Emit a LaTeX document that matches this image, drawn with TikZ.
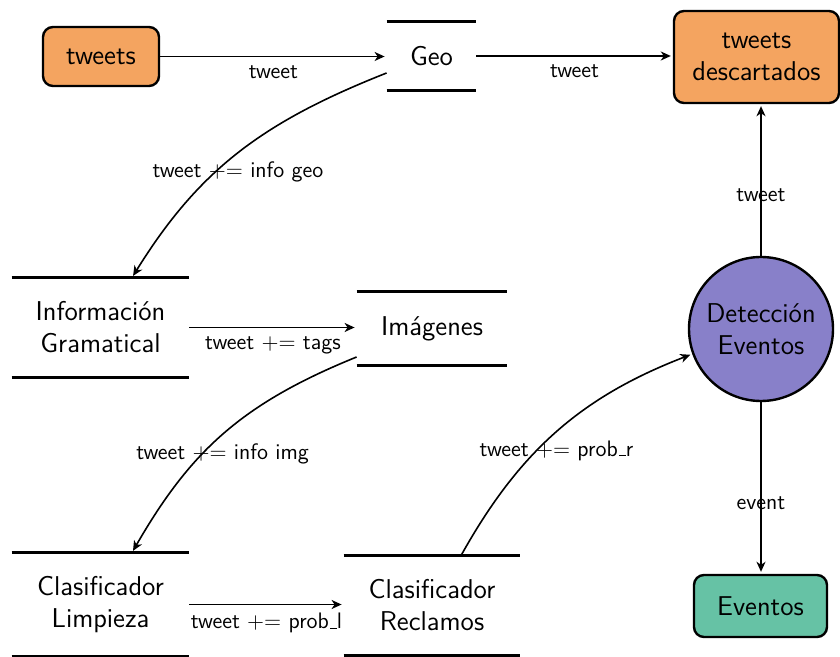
\documentclass[tikz,border=0pt]{standalone}
\usetikzlibrary{arrows.meta}
\definecolor{srcfill}{HTML}{F4A460}
\definecolor{procfill}{HTML}{8880C9}
\definecolor{sinkfill}{HTML}{66C2A5}
% thin low bar in the style of the classic \_ rule
\newcommand\ulbar{\leavevmode\kern.06em\vbox{\hrule width.3em}}
\begin{document}
\begin{tikzpicture}[x=0.5pt,y=-0.5pt,
  font=\sffamily,
  nodetext/.style={font=\sffamily\fontsize{13.6}{16}\selectfont, align=center},
  lbl/.style={font=\sffamily\fontsize{11.2}{13}\selectfont, inner sep=4pt},
  source/.style={nodetext, draw=black, line width=1.2pt, rounded corners=5pt, inner sep=0pt},
  store/.style={nodetext, inner sep=0pt},
  process/.style={nodetext, circle, draw=black, line width=1.2pt, fill=procfill, minimum size=72pt, inner sep=0pt},
  flow/.style={line width=0.8pt, shorten >=1pt, -{Stealth[length=5pt,width=4.5pt,inset=1.5pt]}},
  bar/.style={line width=1.5pt}
]
\useasboundingbox (0,0) rectangle (840,657);

% external entities, data stores and the process
\node[source, fill=srcfill, minimum width=58pt, minimum height=29.5pt] (tweets) at (101,56.5) {tweets};
\node[store, minimum width=44.5pt, minimum height=34pt] (geo) at (431.5,56) {Geo};
\node[source, fill=srcfill, minimum width=82.5pt, minimum height=46pt] (desc) at (756.5,57) {tweets\\descartados};
\node[store, minimum width=88.5pt, minimum height=49.5pt] (info) at (100.5,327.5) {Información\\Gramatical};
\node[store, minimum width=75pt, minimum height=36.5pt] (img) at (432,328.5) {Imágenes};
\node[process] (det) at (761,329) {Detección\\Eventos};
\node[store, minimum width=88.5pt, minimum height=51.5pt] (limp) at (100.5,604.5) {Clasificador\\Limpieza};
\node[store, minimum width=88pt, minimum height=49.5pt] (recl) at (432,605.5) {Clasificador\\Reclamos};
\node[source, fill=sinkfill, minimum width=66.5pt, minimum height=31pt] (evt) at (760.5,606) {Eventos};

% bars above and below each store
\foreach \n in {geo,info,img,limp,recl} {
  \draw[bar] (\n.north west) -- (\n.north east);
  \draw[bar] (\n.south west) -- (\n.south east);
}

% data flows
\draw[flow] (tweets.east) -- (tweets.east -| geo.west) node[lbl, below, midway] {tweet};
\draw[flow] (geo.east) -- (geo.east -| desc.west) node[lbl, below, midway] {tweet};
\draw[flow] ([yshift=-8.5pt]geo.west) .. controls +(-124,49) and +(67,-108) .. ([xshift=15.75pt]info.north)
  node[lbl, below, midway] {tweet $+$= info geo};
\draw[flow] (info.east) -- (info.east -| img.west) node[lbl, below, midway] {tweet $+$= tags};
\draw[flow] ([yshift=-14.25pt]img.west) .. controls +(-116,47) and +(58,-100.5) .. ([xshift=15.75pt]limp.north)
  node[lbl, below, midway] {tweet $+$= info img};
\draw[flow] (limp.east) -- (limp.east -| recl.west) node[lbl, below, midway] {tweet $+$= prob\ulbar l};
\draw[flow] ([xshift=14.5pt]recl.north) .. controls +(58,-104) and +(-111.5,43) .. (det.200)
  node[lbl, below, midway] {tweet $+$= prob\ulbar r};
\draw[flow] (det.north) -- (det.north |- desc.south) node[lbl, below, midway] {tweet};
\draw[flow] (det.south) -- (det.south |- evt.north) node[lbl, below, midway] {event};
\end{tikzpicture}
\end{document}
